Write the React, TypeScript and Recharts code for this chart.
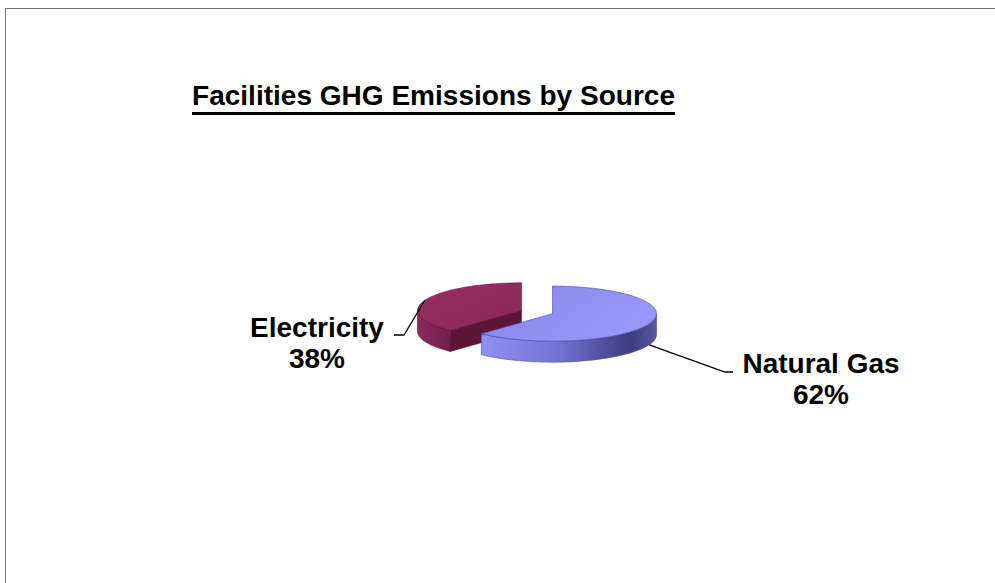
import { PieChart, Pie, Customized } from 'recharts'

const sources = ['Electricity', 'Natural Gas']
const shares = [38, 62]

const data = sources.map((name, i) => ({ name, value: shares[i] }))

// look of the fake 3D pie
const TILT = 0.265
const DEPTH = 21
const EXPLODE = 16.7
const RAD = Math.PI / 180
const FONT = '"Liberation Sans", Arial, sans-serif'

const sliceStyles = [
  { top: 'url(#elecTop)', side: 'url(#elecSide)', cut: '#5c1437', stroke: '#5a1236' },
  { top: 'url(#gasTop)', side: 'url(#gasSide)', cut: '#4a4a96', stroke: '#4646a0' },
]

// leader line + label placement, relative to pie centre
const labelLayout = [
  { anchor: 'top', elbow: [-133, 23], end: [-143, 23], text: [-220, 25] },
  { anchor: 'bottom', elbow: [188, 60], end: [196, 60], text: [284, 61] },
]

const ellipsePoint = (cx: number, cy: number, r: number, a: number, dy = 0) => [
  cx + r * Math.cos(a * RAD),
  cy - r * TILT * Math.sin(a * RAD) + dy,
]

const explodedCentre = (cx: number, cy: number, mid: number) => [
  cx + EXPLODE * Math.cos(mid * RAD),
  cy - EXPLODE * TILT * Math.sin(mid * RAD),
]

function Slice3D(props: any) {
  const { cx, cy, outerRadius, startAngle, endAngle, index } = props
  const mid = (startAngle + endAngle) / 2
  const [ox, oy] = explodedCentre(cx, cy, mid)
  const r = outerRadius
  const ry = r * TILT
  const hi = Math.max(startAngle, endAngle)
  const lo = Math.min(startAngle, endAngle)
  const st = sliceStyles[index % sliceStyles.length]
  const p = (a: number, dy = 0) => ellipsePoint(ox, oy, r, a, dy)
  const f = (q: number[]) => `${q[0].toFixed(2)},${q[1].toFixed(2)}`

  const walls: string[] = []
  for (let n = -1; n <= 2; n++) {
    const a1 = Math.min(hi, 360 * n)
    const a2 = Math.max(lo, -180 + 360 * n)
    if (a1 > a2) {
      walls.push(
        `M${f(p(a1))} A${r},${ry} 0 0 1 ${f(p(a2))} L${f(p(a2, DEPTH))} A${r},${ry} 0 0 0 ${f(p(a1, DEPTH))} Z`
      )
    }
  }

  const cuts: string[] = []
  const cutAt = (a: number) =>
    `M${ox},${oy} L${f(p(a))} L${f(p(a, DEPTH))} L${ox},${oy + DEPTH} Z`
  if (Math.cos(hi * RAD) < -0.01) cuts.push(cutAt(hi))
  if (Math.cos(lo * RAD) > 0.01) cuts.push(cutAt(lo))

  const large = hi - lo > 180 ? 1 : 0
  const top = `M${ox},${oy} L${f(p(hi))} A${r},${ry} 0 ${large} 1 ${f(p(lo))} Z`

  return (
    <g>
      {cuts.map((d, i) => (
        <path key={'c' + i} d={d} fill={st.cut} stroke={st.stroke} strokeWidth={0.6} />
      ))}
      {walls.map((d, i) => (
        <path key={'w' + i} d={d} fill={st.side} stroke={st.stroke} strokeWidth={0.6} />
      ))}
      <path d={top} fill={st.top} stroke={st.stroke} strokeWidth={0.6} />
    </g>
  )
}

function SliceLabel(props: any) {
  const { cx, cy, outerRadius, startAngle, endAngle, index, name, percent } = props
  const mid = (startAngle + endAngle) / 2
  const [ox, oy] = explodedCentre(cx, cy, mid)
  const lay = labelLayout[index]
  const [sx, sy] = ellipsePoint(ox, oy, outerRadius, mid, lay.anchor === 'bottom' ? DEPTH : 0)
  const ex = cx + lay.elbow[0]
  const ey = cy + lay.elbow[1]
  const tx = cx + lay.text[0]
  const ty = cy + lay.text[1]
  return (
    <g>
      <polyline
        points={`${sx},${sy} ${ex},${ey} ${cx + lay.end[0]},${cy + lay.end[1]}`}
        fill="none"
        stroke="#000"
        strokeWidth={1.3}
      />
      <text x={tx} y={ty} textAnchor="middle" fontFamily={FONT} fontWeight="bold" fontSize={28} fill="#000">
        {name}
      </text>
      <text x={tx} y={ty + 30.5} textAnchor="middle" fontFamily={FONT} fontWeight="bold" fontSize={28} fill="#000">
        {`${Math.round(percent * 100)}%`}
      </text>
    </g>
  )
}

const Title = () => (
  <g>
    <text x={192} y={105} fontFamily={FONT} fontWeight="bold" fontSize={28} textLength={483} lengthAdjust="spacingAndGlyphs" fill="#000">
      Facilities GHG Emissions by Source
    </text>
    <line x1={192} x2={675} y1={113.5} y2={113.5} stroke="#000" strokeWidth={2.8} />
  </g>
)

export default function App() {
  return (
    <div style={{ position: 'absolute', left: 0, top: 0, width: 995, height: 583, background: '#fff', overflow: 'hidden' }}>
      <div style={{ position: 'absolute', left: 5, top: 8, width: 1100, height: 700, borderLeft: '1.5px solid #777', borderTop: '1.5px solid #777' }} />
      <PieChart width={995} height={583} style={{ position: 'absolute', left: 0, top: 0 }}>
        <defs>
          <linearGradient id="gasTop" x1="0" y1="0" x2="1" y2="0.4">
            <stop offset="0%" stopColor="#8585ea" />
            <stop offset="100%" stopColor="#9898fa" />
          </linearGradient>
          <linearGradient id="gasSide" x1="0" y1="0" x2="1" y2="0">
            <stop offset="0%" stopColor="#9090f0" />
            <stop offset="45%" stopColor="#7272d2" />
            <stop offset="85%" stopColor="#3c3c80" />
            <stop offset="100%" stopColor="#5858a4" />
          </linearGradient>
          <linearGradient id="elecTop" x1="0" y1="0" x2="1" y2="1">
            <stop offset="0%" stopColor="#962f63" />
            <stop offset="100%" stopColor="#8a2758" />
          </linearGradient>
          <linearGradient id="elecSide" x1="0" y1="0" x2="1" y2="0">
            <stop offset="0%" stopColor="#8a2a5a" />
            <stop offset="100%" stopColor="#74204c" />
          </linearGradient>
        </defs>
        <Customized component={Title} />
        <Pie
          data={data}
          dataKey="value"
          nameKey="name"
          cx={532}
          cy={307}
          outerRadius={104}
          startAngle={90}
          endAngle={450}
          stroke="none"
          shape={Slice3D}
          label={SliceLabel}
          labelLine={false}
          isAnimationActive={false}
        />
      </PieChart>
    </div>
  )
}
